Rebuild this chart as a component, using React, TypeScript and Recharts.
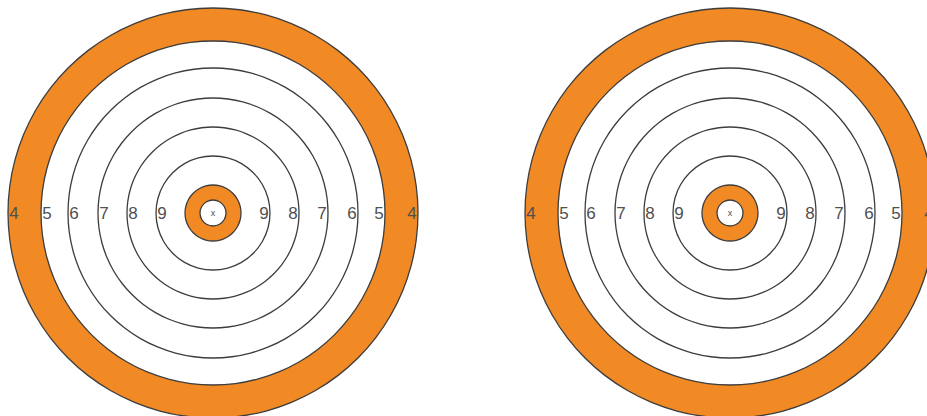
import { Pie, PieChart } from "recharts";

// scoring zones, outermost first; radius = outer edge of the zone
const zoneScores = ["4", "5", "6", "7", "8", "9", "10", "X"];
const zoneRadius = [205, 172, 145, 115, 86, 57, 28, 13];
const zoneFill = ["#f18a24", "#ffffff", "#ffffff", "#ffffff", "#ffffff", "#ffffff", "#f18a24", "#ffffff"];
const labeledScores = ["4", "5", "6", "7", "8", "9"];
const centerMark = "x";

const targetCenters = [
  { cx: 213, cy: 213 },
  { cx: 730, cy: 213 },
];

const LINE = "#3d3d3d";
const TEXT = "#505050";
const one = [{ value: 1 }];

function ringLabel(score: string) {
  return (p: any) => {
    if (score === "X") {
      return (
        <text x={p.cx} y={p.cy + 3} textAnchor="middle" fontSize={9} fill={TEXT}>
          {centerMark}
        </text>
      );
    }
    if (!labeledScores.includes(score)) return <g />;
    const r = p.outerRadius;
    return (
      <g>
        <text x={p.cx - r + 2} y={p.cy + 6} textAnchor="start" fontSize={17} fill={TEXT}>
          {score}
        </text>
        <text x={p.cx + r - 2} y={p.cy + 6} textAnchor="end" fontSize={17} fill={TEXT}>
          {score}
        </text>
      </g>
    );
  };
}

function targetPies(cx: number, cy: number, t: number) {
  const discs = zoneScores.map((s, i) => (
    <Pie
      key={`d${t}-${s}`}
      data={one}
      dataKey="value"
      cx={cx}
      cy={cy}
      innerRadius={0}
      outerRadius={zoneRadius[i]}
      fill={zoneFill[i]}
      stroke="none"
      isAnimationActive={false}
    />
  ));
  const lines = zoneScores.map((s, i) => (
    <Pie
      key={`l${t}-${s}`}
      data={one}
      dataKey="value"
      cx={cx}
      cy={cy}
      innerRadius={zoneRadius[i] - 0.65}
      outerRadius={zoneRadius[i] + 0.65}
      fill={LINE}
      stroke="none"
      label={ringLabel(s)}
      labelLine={false}
      isAnimationActive={false}
    />
  ));
  return [...discs, ...lines];
}

export default function App() {
  return (
    <div
      style={{
        position: "fixed",
        left: 0,
        top: 0,
        width: 927,
        height: 416,
        overflow: "hidden",
        background: "#ffffff",
        fontFamily: "'Liberation Sans', Arial, sans-serif",
      }}
    >
      <PieChart width={927} height={416} margin={{ top: 0, right: 0, bottom: 0, left: 0 }}>
        {targetCenters.map((c, t) => targetPies(c.cx, c.cy, t))}
      </PieChart>
    </div>
  );
}
